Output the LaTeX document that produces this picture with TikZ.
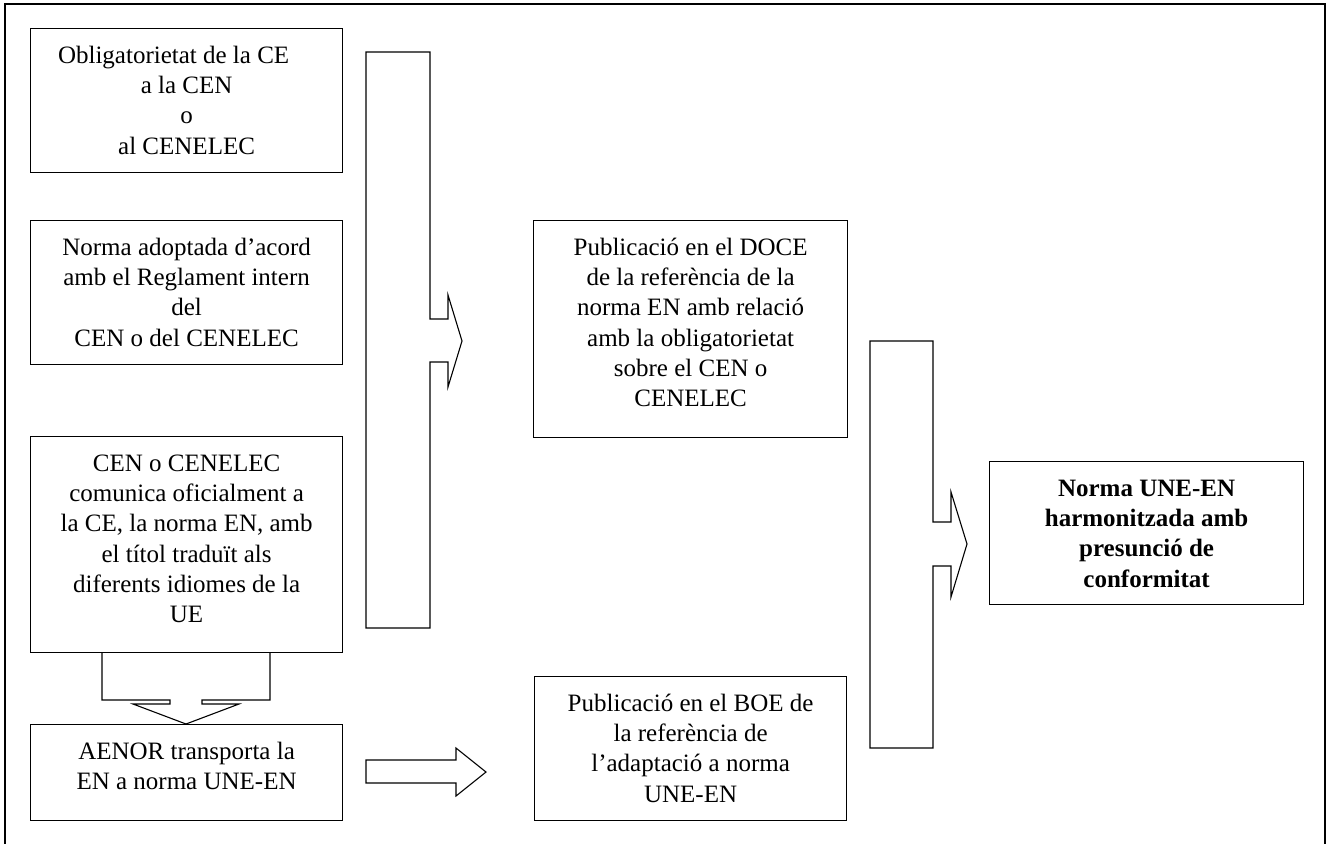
\documentclass[tikz,border=0pt]{standalone}
\usepackage{fontspec}
\setmainfont{Liberation Serif}
\begin{document}
\begin{tikzpicture}[x=1pt,y=-1pt,
  boxr/.style={draw, line width=1.2pt, inner sep=0pt, rectangle, anchor=north west},
  txt/.style={font=\fontsize{25}{30.3}\selectfont, align=center, inner sep=0pt, anchor=north},
  blockarrow/.style={draw, line width=1.1pt, line join=miter}]
\useasboundingbox (0,0) rectangle (1327,843);
% outer frame
\draw[line width=1.3pt] (5,848) -- (5,4) -- (1325,4) -- (1325,848);

% boxes
\node[boxr, minimum width=312pt, minimum height=144pt] (b1) at (30,28) {};
\node[boxr, minimum width=312pt, minimum height=144pt] (b2) at (30,220) {};
\node[boxr, minimum width=312pt, minimum height=216pt] (b3) at (30,436) {};
\node[boxr, minimum width=312pt, minimum height=96pt] (b4) at (30,724) {};
\node[boxr, minimum width=314pt, minimum height=217pt] (b5) at (533,220) {};
\node[boxr, minimum width=312pt, minimum height=144pt] (b6) at (534,676) {};
\node[boxr, minimum width=314pt, minimum height=143pt] (b7) at (989,461) {};

% texts
\node[txt] (t1) at ([yshift=-13.8pt]b1.north) {\strut Obligatorietat de la CE\kern26pt\\a la CEN\\o\\al CENELEC};
\node[txt] (t2) at ([yshift=-13.8pt]b2.north) {\strut Norma adoptada d’acord\\amb el Reglament intern\\del\\CEN o del CENELEC};
\node[txt] (t3) at ([yshift=-13.8pt]b3.north) {\strut CEN o CENELEC\\comunica oficialment a\\la CE, la norma EN, amb\\el títol traduït als\\diferents idiomes de la\\UE};
\node[txt] (t4) at ([yshift=-13.8pt]b4.north) {\strut AENOR transporta la\\EN a norma UNE-EN};
\node[txt] (t5) at ([yshift=-13.8pt]b5.north) {\strut Publicació en el DOCE\\de la referència de la\\norma EN amb relació\\amb la obligatorietat\\sobre el CEN o\\CENELEC};
\node[txt] (t6) at ([yshift=-13.8pt]b6.north) {\strut Publicació en el BOE de\\la referència de\\l’adaptació a norma\\UNE-EN};
\node[txt, font=\fontsize{25}{30.3}\selectfont\bfseries] (t7) at ([yshift=-13.8pt]b7.north) {\strut Norma UNE-EN\\harmonitzada amb\\presunció de\\conformitat};

% block arrows
\coordinate (tipA) at (462,341);
\coordinate (tipB) at (967,544);
\coordinate (tipC) at (486,772);
\coordinate (tipD) at (186,724);
\draw[blockarrow] (366,52) -- (430,52) -- (430,319) -- (448,319) -- (448,295) -- (tipA)
  -- (448,387) -- (448,362) -- (430,362) -- (430,628) -- (366,628) -- cycle;
\draw[blockarrow] (870,341) -- (933,341) -- (933,522) -- (951,522) -- (951,492) -- (tipB)
  -- (951,597) -- (951,566) -- (933,566) -- (933,748) -- (870,748) -- cycle;
\draw[blockarrow] (366,760) -- (456,760) -- (456,748) -- (tipC) -- (456,796) -- (456,783) -- (366,783) -- cycle;
\draw[blockarrow] (b3.south -| 102,0) -- (102,700) -- (170,700) -- (170,704) -- (133,704) -- (tipD)
  -- (239,704) -- (202,704) -- (202,700) -- (270,700) -- (b3.south -| 270,0);
\end{tikzpicture}
\end{document}
